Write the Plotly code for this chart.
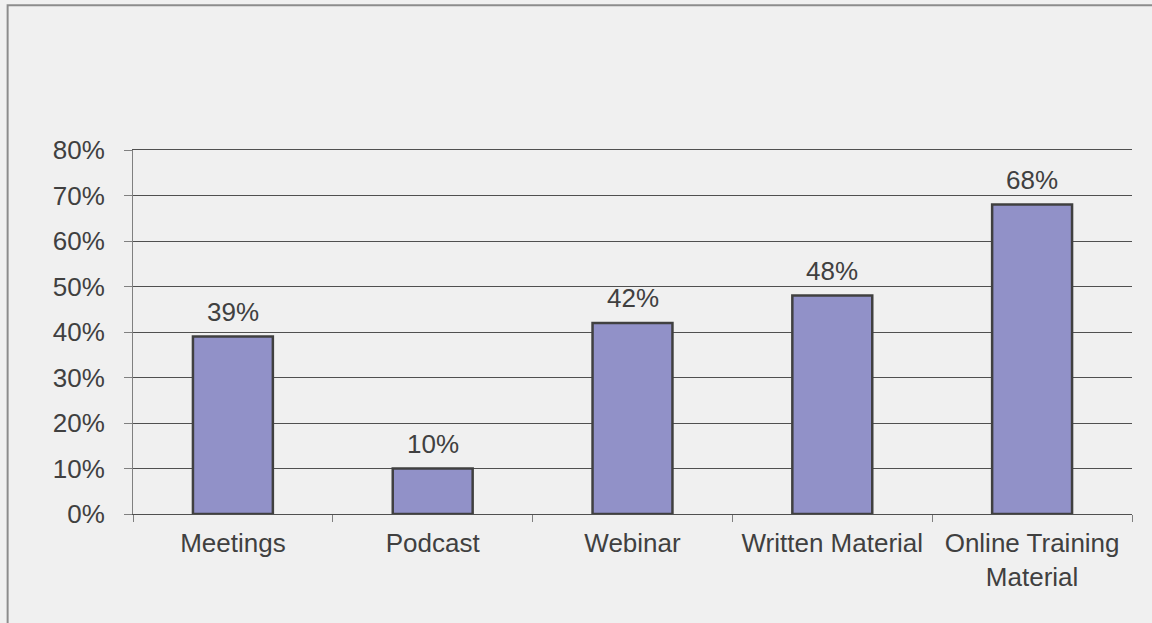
import plotly.graph_objects as go

categories = ["Meetings", "Podcast", "Webinar", "Written Material", "Online Training<br>Material"]
values = [39, 10, 42, 48, 68]
y_ticks = [0, 10, 20, 30, 40, 50, 60, 70, 80]
y_tick_labels = [f"{v}%" for v in y_ticks]

text_color = "#404040"
font_family = "Liberation Sans, Arial, sans-serif"
font_size = 26

fig = go.Figure(
    go.Bar(
        x=categories,
        y=values,
        marker=dict(color="#9191C8", line=dict(color="#404040", width=2.5)),
        width=0.4,
    )
)

# value labels sitting above each bar
for cat, val in zip(categories, values):
    fig.add_annotation(
        x=cat,
        y=val,
        text=f"{val}%",
        showarrow=False,
        yanchor="bottom",
        yshift=8,
        font=dict(size=font_size, color=text_color, family=font_family),
    )

fig.update_layout(
    width=1152,
    height=623,
    margin=dict(l=133, r=20, t=150, b=109),
    paper_bgcolor="#F0F0F0",
    plot_bgcolor="#F0F0F0",
    font=dict(family=font_family, size=font_size, color=text_color),
    showlegend=False,
    shapes=[
        dict(
            type="rect",
            xref="paper",
            yref="paper",
            x0=-0.1255,
            x1=1.05,
            y0=-0.5,
            y1=1.398,
            line=dict(color="#8C8C8C", width=2),
            layer="below",
        )
    ],
)

fig.update_yaxes(
    range=[0, 80],
    tickvals=y_ticks,
    ticktext=y_tick_labels,
    showgrid=True,
    gridcolor="#505050",
    gridwidth=1,
    zeroline=False,
    showline=True,
    linecolor="#808080",
    linewidth=1,
    ticks="outside",
    ticklen=8,
    tickcolor="#808080",
    ticklabelstandoff=14,
    tickfont=dict(size=font_size, color=text_color),
)

# mirrored x-axis line gives the top (80%) rule across the plot
fig.update_xaxes(
    showline=True,
    mirror=True,
    linecolor="#505050",
    linewidth=1,
    ticks="outside",
    tickson="boundaries",
    ticklen=7,
    tickcolor="#808080",
    tickfont=dict(size=font_size, color=text_color),
    ticklabelstandoff=6,
)

fig.write_html("out.html")
